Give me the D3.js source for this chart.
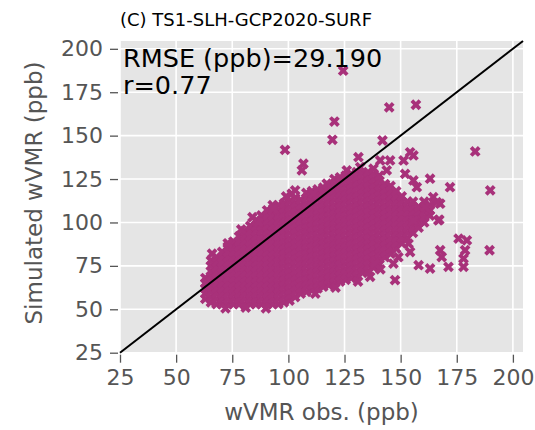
<!DOCTYPE html>
<html>
<head>
<meta charset="utf-8">
<script src="https://cdn.jsdelivr.net/npm/d3@7"></script>
<style>
body { margin: 0; background: #fff; }
text { font-family: 'DejaVu Sans', sans-serif; }
</style>
</head>
<body>
<script>
const w = 535;
const h = 430;
const plotLeft = 120, plotRight = 523, plotTop = 41, plotBottom = 352.7;

const title = '(C) TS1-SLH-GCP2020-SURF';
const statsText = ['RMSE (ppb)=29.190', 'r=0.77'];
const tickValues = [25, 50, 75, 100, 125, 150, 175, 200];
const axisDomain = [25, 204.5];

// dense part of the cloud, read column by column: [obs, [simulated...]]
const cloudColumns = [
  [63, [56,59,62,65,68]],
  [65.5, [54,57,60,63,66,69,72,75,78]],
  [68, [53,56,59,62,65,68,71,74,77,80]],
  [70.5, [53,56,59,62,65,68,71,74,77,80,83]],
  [73, [53,56,59,62,65,68,71,74,77,80,83,86]],
  [75.5, [53,56,59,62,65,68,71,74,77,80,83,86,89]],
  [78, [53,56,59,62,65,68,71,74,77,80,83,86,89,92]],
  [80.5, [53,56,59,62,65,68,71,74,77,80,83,86,89,92,95]],
  [83, [53,56,59,62,65,68,71,74,77,80,83,86,89,92,95,98]],
  [85.5, [53,56,59,62,65,68,71,74,77,80,83,86,89,92,95,98,101]],
  [88, [53,56,59,62,65,68,71,74,77,80,83,86,89,92,95,98,101,104]],
  [90.5, [53,56,59,62,65,68,71,74,77,80,83,86,89,92,95,98,101,104,107]],
  [93, [53,56,59,62,65,68,71,74,77,80,83,86,89,92,95,98,101,104,107,110]],
  [95.5, [53,56,59,62,65,68,71,74,77,80,83,86,89,92,95,98,101,104,107,110]],
  [98, [54,57,60,63,66,69,72,75,78,81,84,87,90,93,96,99,102,105,108,111]],
  [100.5, [55,58,61,64,67,70,73,76,79,82,85,88,91,94,97,100,103,106,109,112]],
  [103, [57,60,63,66,69,72,75,78,81,84,87,90,93,96,99,102,105,108,111,114]],
  [105.5, [59,62,65,68,71,74,77,80,83,86,89,92,95,98,101,104,107,110,113]],
  [108, [60,63,66,69,72,75,78,81,84,87,90,93,96,99,102,105,108,111,114,117]],
  [110.5, [61,64,67,70,73,76,79,82,85,88,91,94,97,100,103,106,109,112,115,118]],
  [113, [62,65,68,71,74,77,80,83,86,89,92,95,98,101,104,107,110,113,116,119]],
  [115.5, [63,66,69,72,75,78,81,84,87,90,93,96,99,102,105,108,111,114,117,120]],
  [118, [64,67,70,73,76,79,82,85,88,91,94,97,100,103,106,109,112,115,118,121]],
  [120.5, [65,68,71,74,77,80,83,86,89,92,95,98,101,104,107,110,113,116,119,122,125]],
  [123, [66,69,72,75,78,81,84,87,90,93,96,99,102,105,108,111,114,117,120,123,126]],
  [125.5, [67,70,73,76,79,82,85,88,91,94,97,100,103,106,109,112,115,118,121,124,127]],
  [128, [68,71,74,77,80,83,86,89,92,95,98,101,104,107,110,113,116,119,122,125,128]],
  [130.5, [69,72,75,78,81,84,87,90,93,96,99,102,105,108,111,114,117,120,123,126,129]],
  [133, [71,74,77,80,83,86,89,92,95,98,101,104,107,110,113,116,119,122,125,128]],
  [135.5, [72,75,78,81,84,87,90,93,96,99,102,105,108,111,114,117,120,123,126,129]],
  [138, [74,77,80,83,86,89,92,95,98,101,104,107,110,113,116,119,122,125,128]],
  [140.5, [76,79,82,85,88,91,94,97,100,103,106,109,112,115,118,121,124,127]],
  [143, [80,83,86,89,92,95,98,101,104,107,110,113,116,119,122]],
  [145.5, [82,85,88,91,94,97,100,103,106,109,112,115,118,121]],
  [148, [85,88,91,94,97,100,103,106,109,112,115,118]],
  [150.5, [88,91,94,97,100,103,106,109,112,115]],
  [153, [91,94,97,100,103,106,109,112]],
  [155.5, [94,97,100,103,106,109,112]],
  [158, [97,100,103,106,109]],
  [160.5, [100,103,106,109,112]],
  [163, [104,107,110]]
];

// scattered points around the cloud: [obs, simulated]
const outliers = [
  [124.4,187.4],[144.9,166.3],[156.8,167.8],[120.5,158.1],[119.6,147.6],[98.5,141.8],
  [106.7,133.8],[106,130],[141.9,147.2],[183.2,140.9],[189.9,118.5],[189.6,84],
  [172,120.3],[163.1,125.2],[155.7,138.6],[154.2,140.4],[151.3,135.7],[152,128],
  [131.2,137.6],[132,131.8],[140.9,135.7],[145.3,135.7],[137.9,131],[143.8,130],
  [155.7,124.2],[157.2,120.3],[164.5,114.6],[167.6,110.8],[166.8,101.2],[166.1,111.7],
  [160.9,108.9],[155.7,101.2],[167.2,101.6],[153.5,87.8],[154.2,83],[158,75.4],
  [163.1,73.5],[167.6,84],[168.3,80.1],[171.3,74.4],[175.8,90.7],[179.5,89.7],
  [178.7,84],[178,79.2],[178,74.4],[147.5,66.8],[146.8,76.3],[138.6,76.3],
  [136.4,68.7],[93.3,108],[86.6,100.2],[101.5,116.6],[103,118.5],[111.1,116.6],
  [117.1,122.3],[126,130],[84,103],[79,96],[73,88],[66,82],[99,115],
  [72,50.5],[81,51],[90,50.5],[112,59],[121,62.5],[131,66],[141,73],[149,80]
];

const points = cloudColumns.flatMap(c => c[1].map(s => [c[0], s])).concat(outliers);

const svg = d3.select('body')
  .append('svg')
  .attr('width', w)
  .attr('height', h);

svg.append('rect').attr('width', w).attr('height', h).attr('fill', '#fff');

const xScale = d3.scaleLinear().domain(axisDomain).range([plotLeft, plotRight]);
const yScale = d3.scaleLinear().domain(axisDomain).range([plotBottom, plotTop]);

svg.append('rect')
  .attr('x', plotLeft)
  .attr('y', plotTop)
  .attr('width', plotRight - plotLeft)
  .attr('height', plotBottom - plotTop)
  .attr('fill', '#e5e5e5');

// grid
const grid = svg.append('g').attr('stroke', '#fff').attr('stroke-width', 1.6);
tickValues.forEach(t => {
  grid.append('line')
    .attr('x1', xScale(t)).attr('x2', xScale(t))
    .attr('y1', plotTop).attr('y2', plotBottom);
  grid.append('line')
    .attr('x1', plotLeft).attr('x2', plotRight)
    .attr('y1', yScale(t)).attr('y2', yScale(t));
});

// axes
const xAxis = d3.axisBottom(xScale).tickValues(tickValues).tickSize(8).tickPadding(7);
const yAxis = d3.axisLeft(yScale).tickValues(tickValues).tickSize(8).tickPadding(7);

const gx = svg.append('g')
  .attr('transform', 'translate(0,' + (plotBottom + 2) + ')')
  .call(xAxis);
const gy = svg.append('g')
  .attr('transform', 'translate(' + (plotLeft - 2) + ',0)')
  .call(yAxis);

[gx, gy].forEach(g => {
  g.select('.domain').remove();
  g.selectAll('line').attr('stroke', '#555').attr('stroke-width', 1.3);
  g.selectAll('text')
    .attr('fill', '#555')
    .style('font-size', '22px')
    .style('font-family', 'DejaVu Sans');
});

// markers (filled x)
const k = 2.7;
const xPath = 'M' + [[-1,-2],[0,-1],[1,-2],[2,-1],[1,0],[2,1],[1,2],[0,1],[-1,2],[-2,1],[-1,0],[-2,-1]]
  .map(p => (p[0] * k) + ',' + (p[1] * k)).join('L') + 'Z';

svg.append('g')
  .selectAll('path')
  .data(points)
  .enter()
  .append('path')
  .attr('d', xPath)
  .attr('transform', d => 'translate(' + xScale(d[0]) + ',' + yScale(d[1]) + ')')
  .attr('fill', '#a8317a');

// 1:1 line
svg.append('line')
  .attr('x1', xScale(axisDomain[0])).attr('y1', yScale(axisDomain[0]))
  .attr('x2', xScale(axisDomain[1])).attr('y2', yScale(axisDomain[1]))
  .attr('stroke', '#000')
  .attr('stroke-width', 2);

// texts
svg.append('text')
  .attr('x', 120)
  .attr('y', 26)
  .attr('fill', '#000')
  .style('font-size', '18px')
  .text(title);

svg.append('text')
  .attr('x', 123)
  .attr('y', 67)
  .attr('fill', '#000')
  .style('font-size', '25.5px')
  .text(statsText[0]);
svg.append('text')
  .attr('x', 123)
  .attr('y', 94)
  .attr('fill', '#000')
  .style('font-size', '25.5px')
  .text(statsText[1]);

svg.append('text')
  .attr('x', (plotLeft + plotRight) / 2)
  .attr('y', 420)
  .attr('text-anchor', 'middle')
  .attr('fill', '#555')
  .style('font-size', '23px')
  .text('wVMR obs. (ppb)');

svg.append('text')
  .attr('transform', 'translate(42,' + 193 + ') rotate(-90)')
  .attr('text-anchor', 'middle')
  .attr('fill', '#555')
  .style('font-size', '23px')
  .text('Simulated wVMR (ppb)');
</script>
</body>
</html>
